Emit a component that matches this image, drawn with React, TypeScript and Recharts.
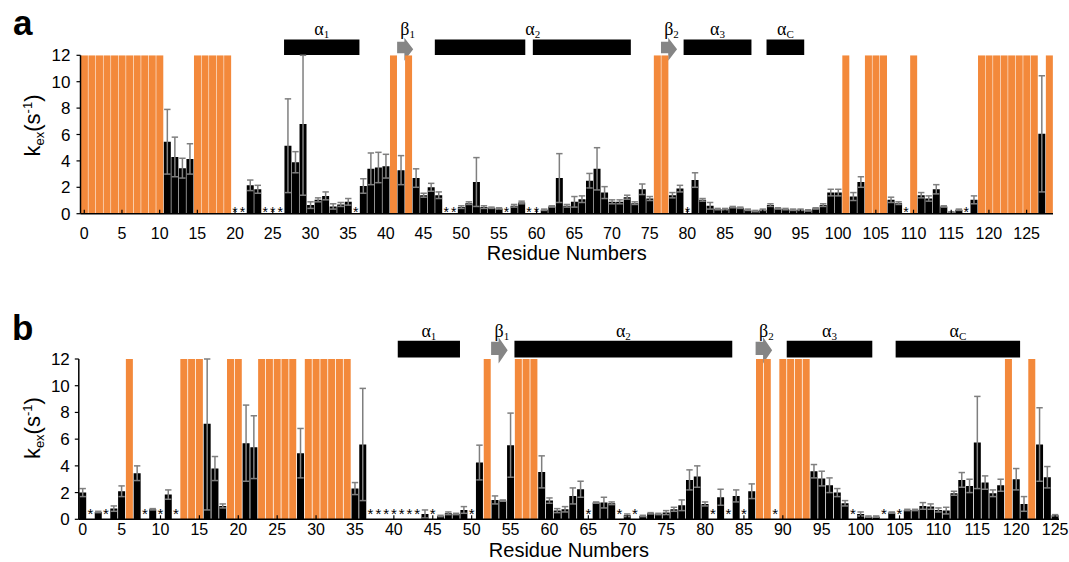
import React from "react";
import {
  ComposedChart,
  Bar,
  Cell,
  ErrorBar,
  Scatter,
  XAxis,
  YAxis,
  ReferenceArea,
} from "recharts";

const MAX_K = 12;
const ORANGE = "#F3893B";
const ERR_GRAY = "#7f7f7f";
const ARROW_GRAY = "#858585";
const FONT = "Arial, 'Liberation Sans', Helvetica, sans-serif";
const SERIF = "'Times New Roman', 'Liberation Serif', 'DejaVu Serif', serif";

// ---- panel a: residues 0-128 ----
// k_ex values (null = saturated or no data)
const kexA: (number | null)[] = [
  null, null, null, null, null, null, null, null, null, null,
  null, 5.45, 4.3, 3.45, 4.15, null, null, null, null, null,
  null, null, 2.15, 1.85, null, null, null, 5.15, 3.9, 6.8,
  0.65, 1.05, 1.35, 0.55, 0.7, 0.9, null, 2.1, 3.4, 3.5,
  3.6, null, 3.3, null, 2.7, 1.4, 2.0, 1.4, null, null,
  0.5, 0.8, 2.4, 0.5, 0.45, 0.4, null, 0.6, 0.85, null,
  null, 0.3, 0.55, 2.7, 0.6, 0.9, 1.1, 2.5, 3.4, 1.6,
  0.9, 0.9, 1.25, 0.8, 1.85, 1.15, null, null, 1.4, 1.9,
  null, 2.55, 1.05, 0.6, 0.35, 0.35, 0.5, 0.45, 0.3, 0.2,
  0.3, 0.65, 0.4, 0.35, 0.3, 0.3, 0.25, 0.4, 0.65, 1.6,
  1.6, null, 1.3, 2.4, null, null, null, 1.05, 0.8, null,
  null, 1.4, 1.15, 1.85, 0.55, 0.1, 0.3, null, 1.05, null,
  null, null, null, null, null, null, null, 6.05, null,
];
const errA: (number | null)[] = [
  null, null, null, null, null, null, null, null, null, null,
  null, 2.45, 1.5, 0.75, 1.15, null, null, null, null, null,
  null, null, 0.4, 0.3, null, null, null, 3.55, 0.8, 5.4,
  0.25, 0.15, 0.3, 0.2, 0.15, 0.25, null, 0.55, 1.2, 1.15,
  0.9, null, 1.1, null, 0.7, 0.15, 0.3, 0.25, null, null,
  0.1, 0.1, 1.85, 0.1, 0.05, 0.05, null, 0.1, 0.1, null,
  null, 0.05, 0.05, 1.85, 0.1, 0.4, 0.25, 0.55, 1.6, 0.45,
  0.15, 0.15, 0.15, 0.1, 0.4, 0.15, null, null, 0.2, 0.25,
  null, 0.55, 0.1, 0.25, 0.05, 0.05, 0.05, 0.05, 0.05, 0.05,
  0.05, 0.1, 0.05, 0.05, 0.05, 0.05, 0.05, 0.05, 0.1, 0.25,
  0.25, null, 0.3, 0.4, null, null, null, 0.2, 0.1, null,
  null, 0.2, 0.2, 0.35, 0.05, 0.05, 0.05, null, 0.3, null,
  null, null, null, null, null, null, null, 4.4, null,
];
// residues exchanging too fast to measure (drawn at the top of the scale)
const fastA = [
  0, 1, 2, 3, 4, 5, 6, 7, 8, 9, 10, 15, 16, 17, 18, 19, 41, 43, 76, 77,
  101, 104, 105, 106, 110, 119, 120, 121, 122, 123, 124, 125, 126, 128,
];
const ssA = [
  { name: "α", sub: "1", kind: "helix", segs: [[27, 36]] },
  { name: "β", sub: "1", kind: "strand", segs: [[42, 43]] },
  { name: "α", sub: "2", kind: "helix", segs: [[47, 58], [60, 72]] },
  { name: "β", sub: "2", kind: "strand", segs: [[77, 78]] },
  { name: "α", sub: "3", kind: "helix", segs: [[80, 88]] },
  { name: "α", sub: "C", kind: "helix", segs: [[91, 95]] },
];
const xTicksA = [0, 5, 10, 15, 20, 25, 30, 35, 40, 45, 50, 55, 60, 65, 70, 75, 80, 85, 90, 95, 100, 105, 110, 115, 120, 125];

// ---- panel b: residues 0-125 ----
const kexB: (number | null)[] = [
  2.0, null, 0.55, null, 0.8, 2.1, null, 3.45, null, 0.75,
  null, 1.85, null, null, null, null, 7.15, 3.8, 1.0, null,
  null, 5.7, 5.4, null, null, null, null, null, 4.95, null,
  null, null, null, null, null, 2.3, 5.6, null, null, null,
  null, null, null, null, 0.4, null, 0.25, 0.45, 0.4, 0.7,
  null, 4.25, null, 1.45, 1.4, 5.55, null, null, null, 3.55,
  1.4, 0.65, 0.75, 1.75, 2.25, null, 1.25, 1.25, 1.2, null,
  0.3, null, 0.25, 0.45, 0.4, 0.5, 0.75, 1.05, 2.95, 3.2,
  1.15, null, 1.65, null, 1.75, null, 2.1, null, null, null,
  null, null, null, null, 3.6, 3.05, 2.55, 2.0, 1.2, null,
  0.4, 0.2, 0.2, null, 0.5, null, 0.7, 0.7, 1.0, 0.95,
  0.7, 0.65, 1.95, 2.95, 2.5, 5.75, 2.75, 1.95, 2.55, null,
  3.0, 1.15, null, 5.6, 3.15, 0.3,
];
const errB: (number | null)[] = [
  0.3, null, 0.05, null, 0.2, 0.4, null, 0.55, null, 0.05,
  null, 0.35, null, null, null, null, 6.45, 0.9, 0.15, null,
  null, 2.85, 2.35, null, null, null, null, null, 1.85, null,
  null, null, null, null, null, 0.45, 4.2, null, null, null,
  null, null, null, null, 0.3, null, 0.05, 0.1, 0.05, 0.25,
  null, 1.3, null, 0.3, 0.05, 2.4, null, null, null, 1.2,
  0.2, 0.15, 0.2, 0.6, 0.6, null, 0.05, 0.4, 0.1, null,
  0.1, null, 0.05, 0.05, 0.05, 0.15, 0.15, 0.4, 0.75, 0.8,
  0.15, null, 0.6, null, 0.45, null, 0.55, null, null, null,
  null, null, null, null, 0.5, 0.55, 0.55, 0.3, 0.2, null,
  0.15, 0.05, 0.05, null, 0.05, null, 0.05, 0.05, 0.25, 0.2,
  0.15, 0.25, 0.15, 0.55, 0.5, 3.45, 0.5, 0.25, 0.45, null,
  0.8, 0.55, null, 2.75, 0.8, 0.05,
];
const fastB = [
  6, 13, 14, 15, 19, 20, 23, 24, 25, 26, 27, 29, 30, 31, 32, 33, 34,
  52, 56, 57, 58, 87, 88, 90, 91, 92, 93, 119, 122,
];
const ssB = [
  { name: "α", sub: "1", kind: "helix", segs: [[41, 48]] },
  { name: "β", sub: "1", kind: "strand", segs: [[53, 54]] },
  { name: "α", sub: "2", kind: "helix", segs: [[56, 83]] },
  { name: "β", sub: "2", kind: "strand", segs: [[87, 88]] },
  { name: "α", sub: "3", kind: "helix", segs: [[91, 101]] },
  { name: "α", sub: "C", kind: "helix", segs: [[105, 120]] },
];
const xTicksB = [0, 5, 10, 15, 20, 25, 30, 35, 40, 45, 50, 55, 60, 65, 70, 75, 80, 85, 90, 95, 100, 105, 110, 115, 120, 125];

const yTicks = [0, 2, 4, 6, 8, 10, 12];

interface Row {
  res: number;
  v: number | null;
  e: [number, number] | null;
  fast: boolean;
  star: number | null;
}

function buildRows(kex: (number | null)[], err: (number | null)[], fast: number[]): Row[] {
  return kex.map((k, res) => {
    const isFast = fast.includes(res);
    const er = err[res];
    // the upper whisker stops at the top of the axis, as in the figure
    const e: [number, number] | null =
      isFast || k == null || er == null ? null : [er, Math.min(er, MAX_K - k)];
    return {
      res,
      v: isFast ? MAX_K : k,
      e,
      fast: isFast,
      star: !isFast && k == null ? 0 : null,
    };
  });
}

const rowsA = buildRows(kexA, errA, fastA);
const rowsB = buildRows(kexB, errB, fastB);

// block arrow for beta strands, head hangs a bit low like the original
const strandArrow = (props: any) => {
  const { x, y, width, height } = props;
  if (x == null || y == null) return <g />;
  const neck = x + width * 0.48;
  const tip = x + width + 1;
  const top = y - height * 0.33;
  const bot = y + height * 1.63;
  const tipY = (top + bot) / 2;
  const d = `M${x},${y} L${neck},${y} L${neck},${top} L${tip},${tipY} L${neck},${bot} L${neck},${y + height} L${x},${y + height} Z`;
  return <path d={d} fill={ARROW_GRAY} />;
};

function Star(props: any) {
  const { cx, cy, payload, dy, size } = props;
  if (cx == null || cy == null || payload?.star == null) return <g />;
  return (
    <text x={cx} y={cy + dy} textAnchor="middle" fontSize={size} fontFamily={FONT} fill="#000">
      *
    </text>
  );
}

interface PanelCfg {
  top: number;
  height: number;
  margin: { top: number; right: number; bottom: number; left: number };
  xAxisHeight: number;
  yAxisWidth: number;
  xTickMargin: number;
  xTickSize: number;
  yTickMargin: number;
  titleDy: number;
  titleSize: number;
  yTitleShift: number;
  starDy: number;
  starSize: number;
  helix: [number, number];
  strand: [number, number];
}

const cfgA: PanelCfg = {
  top: 0,
  height: 275,
  margin: { top: 55.3, right: 16, bottom: 16.3, left: 40 },
  xAxisHeight: 45,
  yAxisWidth: 40.5,
  xTickMargin: 17.8,
  xTickSize: 16,
  yTickMargin: 6,
  titleDy: 46.4,
  titleSize: 20,
  yTitleShift: -9,
  starDy: 3.3,
  starSize: 14,
  helix: [12.02, 13.2],
  strand: [12.15, 13.03],
};

const cfgB: PanelCfg = {
  top: 282,
  height: 280,
  margin: { top: 77, right: 10, bottom: 2.7, left: 40 },
  xAxisHeight: 40,
  yAxisWidth: 38.8,
  xTickMargin: 8.6,
  xTickSize: 16,
  yTickMargin: 5,
  titleDy: 37.6,
  titleSize: 20,
  yTitleShift: -11,
  starDy: 0,
  starSize: 15,
  helix: [12.12, 13.37],
  strand: [12.3, 13.3],
};

interface SsEl {
  name: string;
  sub: string;
  kind: string;
  segs: number[][];
}

function Panel({ rows, ss, xTicks, cfg }: { rows: Row[]; ss: SsEl[]; xTicks: number[]; cfg: PanelCfg }) {
  const xTitle = (p: any) => {
    const vb = p.viewBox ?? {};
    return (
      <text x={vb.x + vb.width / 2} y={vb.y + cfg.titleDy} textAnchor="middle" fontSize={cfg.titleSize} fontFamily={FONT} fill="#000">
        Residue Numbers
      </text>
    );
  };
  const yTitle = (p: any) => {
    const vb = p.viewBox ?? {};
    const cy = vb.y + vb.height / 2 + cfg.yTitleShift;
    return (
      <text transform={`translate(40, ${cy}) rotate(-90)`} textAnchor="middle" fontSize={22} fontFamily={FONT} fill="#000">
        k<tspan fontSize={13} dy={4}>ex</tspan>
        <tspan dy={-4}>(s</tspan>
        <tspan fontSize={13} dy={-8}>-1</tspan>
        <tspan dy={8}>)</tspan>
      </text>
    );
  };
  const ssLabel = (el: SsEl) => (p: any) => {
    const vb = p.viewBox ?? {};
    const dx = el.kind === "strand" ? 3 : 0;
    return (
      <text x={vb.x + vb.width / 2 + dx} y={vb.y - 4} textAnchor="middle" fontSize={18} fontFamily={SERIF} fill="#000">
        {el.name}
        <tspan fontSize={11} dy={3}>{el.sub}</tspan>
      </text>
    );
  };

  return (
    <div style={{ position: "absolute", left: 0, top: cfg.top, width: 1069, height: cfg.height }}>
      <ComposedChart width={1069} height={cfg.height} data={rows} margin={cfg.margin} barCategoryGap={0.4}>
        <XAxis
          dataKey="res"
          type="category"
          ticks={xTicks}
          interval={0}
          tickSize={-4}
          tickMargin={cfg.xTickMargin}
          height={cfg.xAxisHeight}
          axisLine={{ stroke: "#000", strokeWidth: 1.5 }}
          tickLine={{ stroke: "#000", strokeWidth: 1.2 }}
          tick={{ fill: "#000", fontSize: cfg.xTickSize, fontFamily: FONT }}
          label={xTitle}
        />
        <YAxis
          type="number"
          domain={[0, MAX_K]}
          ticks={yTicks}
          allowDataOverflow
          width={cfg.yAxisWidth}
          tickSize={4}
          tickMargin={cfg.yTickMargin}
          axisLine={{ stroke: "#000", strokeWidth: 1.5 }}
          tickLine={{ stroke: "#000", strokeWidth: 1.2 }}
          tick={{ fill: "#000", fontSize: 17, fontFamily: FONT }}
          label={yTitle}
        />
        <Bar dataKey="v" isAnimationActive={false}>
          {rows.map((r) => (
            <Cell key={r.res} fill={r.fast ? ORANGE : "#000"} />
          ))}
          <ErrorBar dataKey="e" width={3.2} stroke={ERR_GRAY} strokeWidth={1.5} />
        </Bar>
        <Scatter
          dataKey="star"
          isAnimationActive={false}
          shape={(p: any) => <Star {...p} dy={cfg.starDy} size={cfg.starSize} />}
        />
        {ss.flatMap((el, i) =>
          el.segs.map(([s, e], j) =>
            el.kind === "helix" ? (
              <ReferenceArea
                key={`h-${i}-${j}`}
                x1={s}
                x2={e}
                y1={cfg.helix[0]}
                y2={cfg.helix[1]}
                ifOverflow="visible"
                fill="#000"
                fillOpacity={1}
                stroke="none"
              />
            ) : (
              <ReferenceArea
                key={`s-${i}-${j}`}
                x1={s}
                x2={e}
                y1={cfg.strand[0]}
                y2={cfg.strand[1]}
                ifOverflow="visible"
                shape={strandArrow}
              />
            )
          )
        )}
        {ss.map((el, i) => (
          <ReferenceArea
            key={`l-${i}`}
            x1={el.segs[0][0]}
            x2={el.segs[el.segs.length - 1][1]}
            y1={cfg.helix[0]}
            y2={cfg.helix[1]}
            ifOverflow="visible"
            fill="none"
            fillOpacity={0}
            stroke="none"
            label={ssLabel(el)}
          />
        ))}
      </ComposedChart>
    </div>
  );
}

export default function App() {
  return (
    <div style={{ position: "absolute", left: 0, top: 0, width: 1069, height: 562, background: "#fff", overflow: "hidden" }}>
      <Panel rows={rowsA} ss={ssA} xTicks={xTicksA} cfg={cfgA} />
      <Panel rows={rowsB} ss={ssB} xTicks={xTicksB} cfg={cfgB} />
      <svg width={1069} height={562} style={{ position: "absolute", left: 0, top: 0, pointerEvents: "none" }}>
        <text x={13} y={35} fontSize={35} fontWeight="bold" fontFamily={FONT} fill="#000">a</text>
        <text x={12} y={340} fontSize={35} fontWeight="bold" fontFamily={FONT} fill="#000">b</text>
      </svg>
    </div>
  );
}
